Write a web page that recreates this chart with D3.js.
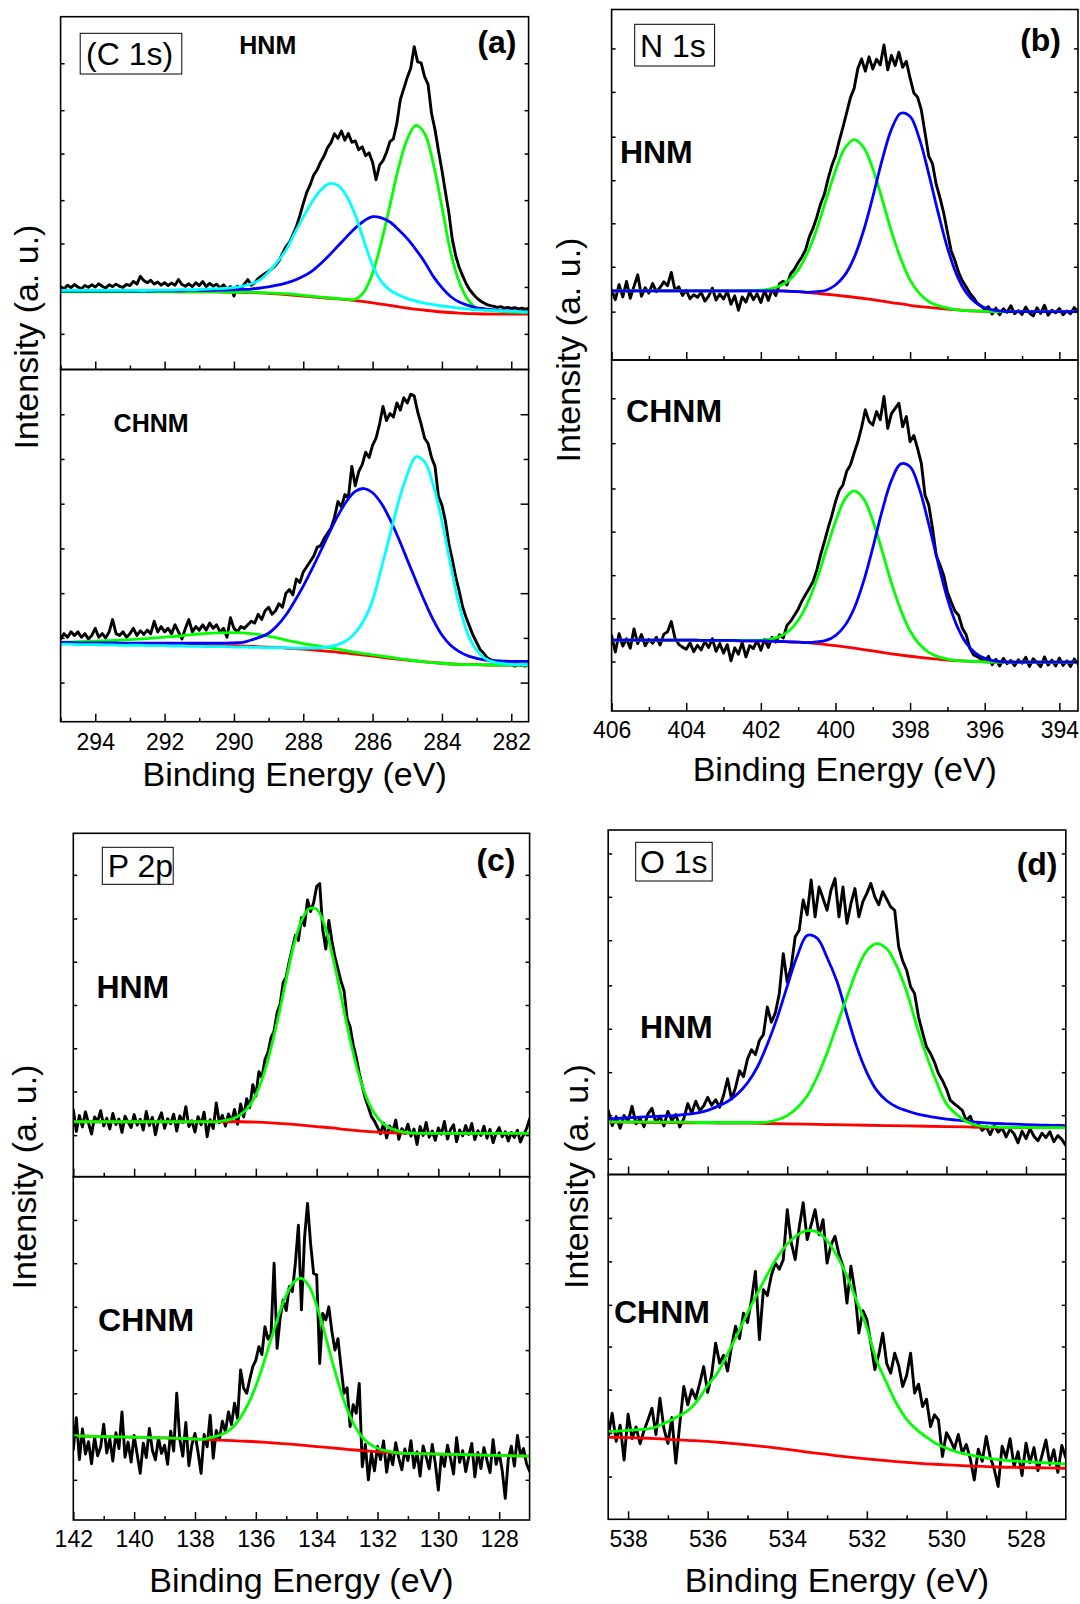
<!DOCTYPE html>
<html><head><meta charset="utf-8">
<script src="https://cdn.jsdelivr.net/npm/d3@7"></script>
<style>body{margin:0;background:#fff}svg{display:block}</style>
</head><body>
<svg id="chart" width="1080" height="1604"></svg>
<script>
// ---------------- DATA ----------------
const rangeC1s = [295, 281.5], rangeN1s = [406, 393.5], rangeP2p = [142, 127], rangeO1s = [538.5, 527];
const stepRaw = 0.1, stepFit = 0.25, stepBg = 0.5;
const majorC1s = [294,292,290,288,286,284,282], minorC1s = [295,293,291,289,287,285,283];
const majorN1s = [406,404,402,400,398,396,394], minorN1s = [405,403,401,399,397,395];
const majorP2p = [142,140,138,136,134,132,130,128], minorP2p = [141,139,137,135,133,131,129];
const majorO1s = [538,536,534,532,530,528], minorO1s = [537,535,533,531,529];

const yTicksC1sHnm = [10.1,23.4,35.7,48.0,61.2,73.5,86.8];
const yTicksC1sChnm = [11.1,23.8,36.5,49.2,61.9,74.6,87.3];
const yTicksN1sHnm = [13.8,26.6,39.0,51.3,63.7,76.5,88.9];
const yTicksN1sChnm = [14.1,26.4,38.7,51.1,63.4,76.3,89.1];
const yTicksP2pHnm = [12.1,24.8,37.4,50.0,62.6,75.2,87.9];
const yTicksP2pChnm = [11.7,24.3,36.9,49.5,62.1,74.8,87.4];
const yTicksO1sHnm = [4.6,17.2,29.7,42.3,54.9,68.0,80.6,93.2];
const yTicksO1sChnm = [12.4,25.0,37.6,50.1,62.2,74.8,87.4];

// C 1s, HNM
const c1sHnmRaw = [23.5,22.8,23.9,23.2,24.1,23.4,22.9,23.8,23.3,24.0,
 23.4,24.3,23.6,23.1,24.0,23.5,24.2,23.6,23.3,24.1,
 23.8,25.0,24.2,26.4,25.2,24.6,25.3,24.2,24.8,23.9,
 24.6,23.8,24.5,23.9,25.5,24.1,23.6,24.3,23.5,24.6,
 23.8,24.9,23.5,24.4,23.6,24.2,23.1,24.0,22.8,23.5,
 20.8,23.6,22.9,24.2,25.5,23.9,24.6,25.8,26.5,27.2,
 27.8,28.6,29.5,30.8,32.9,34.8,36.0,38.2,40.5,43.6,
 47.0,50.2,52.4,55.1,56.6,58.8,60.5,62.9,64.3,66.8,
 65.5,67.6,65.0,66.9,64.4,64.8,62.3,63.1,60.6,61.4,
 58.7,53.8,57.9,59.2,61.5,64.6,65.4,69.8,76.5,79.6,
 82.8,85.4,91.5,87.2,86.9,83.0,80.8,72.6,68.0,62.0,
 56.5,50.3,44.4,36.8,32.2,28.9,26.5,24.3,22.6,21.4,
 20.3,19.5,18.9,18.4,18.1,17.9,17.6,17.8,17.4,17.6,
 17.3,17.5,17.2,17.4,17.1,17.3];
const c1sHnmBg = [22.2,22.2,22.2,22.1,22.1,22.1,22.1,22.0,22.0,22.0,21.9,21.8,21.6,21.2,20.8,20.4,20.0,19.5,18.9,18.2,17.4,16.8,16.3,16.0,15.8,15.7,15.7,15.7];
const c1sHnmGreen = [22.1,22.0,22.0,22.0,22.0,22.0,22.0,22.0,22.0,22.0,22.0,22.0,22.0,22.0,22.0,22.0,22.0,22.0,22.0,
 21.9,21.9,21.9,21.9,21.8,21.7,21.6,21.5,21.3,21.0,20.8,20.5,20.3,20.1,19.9,19.9,22.0,27.3,36.0,46.5,57.2,65.3,69.2,66.9,58.4,46.1,33.3,24.8,19.8,17.4,16.8,16.6,16.4,16.3,16.2,16.2];
const c1sHnmBlue = [22.2,22.2,22.2,22.2,22.2,22.2,22.2,22.2,22.2,22.2,22.2,22.3,22.3,22.3,22.3,22.4,22.4,22.4,22.5,22.5,
 22.6,22.7,22.8,23.1,23.4,23.9,24.5,25.3,26.4,27.9,30.0,32.4,35.0,37.6,40.1,42.1,43.3,43.0,41.8,39.6,37.1,34.0,30.5,26.4,23.2,20.7,19.1,18.2,17.5,17.2,16.9,16.7,16.6,16.5,16.4];
const c1sHnmCyan = [22.4,22.4,22.4,22.4,22.4,22.4,22.4,22.4,22.4,22.4,22.4,22.5,22.5,22.5,22.6,22.6,22.7,22.8,22.9,23.0,
 23.2,23.6,24.3,25.4,27.6,30.5,33.8,38.6,43.2,47.4,50.8,52.7,52.2,49.2,43.8,36.5,29.5,25.0,22.5,21.1,20.1,19.4,18.8,18.4,18.0,17.7,17.4,17.1,16.9,16.8,16.7,16.6,16.5,16.4,16.3];

// C 1s, CHNM
const c1sChnmRaw = [23.5,25,24,25.5,24.5,25.5,24,25,23.5,24.5,
 26.5,24,25,23.8,25.5,29,25,24.5,25.5,24,
 25,26.5,24.5,25.8,24.8,26,25,28.5,25.5,27,
 25.5,26.5,25,27.5,25.5,23.5,26.5,29,25.5,27,
 26,27.5,26,28,26.5,27.5,25.5,26.5,24,29.5,
 26.5,25.5,27,26.5,27.5,28.5,28,30.5,29,31.5,
 32.5,30.5,31.5,33.5,32.5,36.5,37.5,36,40.5,39.5,
 42.5,44,45.5,47,49.5,50,52,53.5,55,58,
 62.5,61,64.5,63.5,72.5,67,71,73,76.5,75,
 78.5,80.5,84.5,89.5,85.5,87.5,86.5,90.5,88.5,92,
 90.5,93,92.5,88,84.5,80.5,79,75,72.5,64,
 61.5,57,50.5,46,41,37,32.5,29.5,27,24.5,
 22.5,20.5,19.5,18.2,17.6,17.3,17,16.5,16.3,17,
 16.2,15.8,16.2,16,15.8,16.1];
const c1sChnmBg = [22.3,22.2,22.2,22.1,22.0,22.0,21.9,21.8,21.7,21.6,21.6,21.4,21.2,20.9,20.6,20.2,19.7,19.2,18.6,18.0,17.5,17.0,16.6,16.3,16.2,16.1,16.1,16.1];
const c1sChnmGreen = [22.5,22.7,22.9,23.1,23.3,23.6,24.0,24.4,24.9,25.2,25.3,25.0,24.3,23.2,22.2,21.4,20.6,19.7,19.0,18.3,17.6,17.0,16.6,16.3,16.2,16.1,16.1,16.1];
const c1sChnmBlue = [22.5,22.5,22.4,22.4,22.4,22.4,22.4,22.3,22.3,22.3,22.3,22.3,22.3,22.3,22.3,22.3,22.3,22.3,22.3,
 22.3,22.4,22.5,23.2,24.0,25.1,27.3,30.3,34.2,38.5,43.3,48.4,53.6,58.5,62.6,65.4,66.2,65.0,62.0,57.5,52.0,46.0,40.0,34.2,28.9,24.6,21.7,19.9,18.7,18.0,17.5,17.3,17.2,17.1,17.1,17.1];
const c1sChnmCyan = [22.0,22.0,21.9,21.9,21.9,21.8,21.8,21.7,21.7,21.7,21.6,21.6,21.6,21.5,21.5,21.4,21.4,21.3,21.3,21.3,
 21.2,21.2,21.1,21.1,21.0,21.0,21.0,20.9,20.9,20.9,21.0,21.3,21.9,23.0,25.2,28.8,34.5,43.5,53.0,62.5,70.2,75.2,73.8,67.2,57.0,44.5,33.0,24.8,20.3,17.9,16.9,16.5,16.3,16.2,16.1];

// N 1s, HNM
const n1sHnmRaw = [20.0,17.2,21.5,18.0,22.4,17.6,21.0,24.3,18.2,20.6,
 19.1,21.8,19.5,20.7,22.3,21.2,25.0,19.8,20.9,18.4,
 19.9,17.5,18.6,17.9,19.3,16.8,18.2,20.5,17.1,18.8,
 17.4,19.6,15.9,18.3,14.2,18.0,16.5,19.4,17.2,18.9,
 16.4,19.8,17.0,20.1,18.4,21.8,22.5,21.4,24.6,25.9,
 27.8,29.4,31.5,35.2,37.6,40.8,44.5,47.2,51.6,55.4,
 58.2,62.5,66.4,70.6,74.8,77.5,83.2,85.9,82.4,86.5,
 83.0,85.8,84.2,89.9,82.8,86.9,84.0,87.8,83.5,85.2,
 80.4,76.2,75.0,71.4,64.8,58.2,56.0,50.1,46.3,42.0,
 36.5,31.2,28.4,25.0,22.6,20.9,19.1,17.8,16.2,15.4,
 14.5,15.2,13.1,14.8,12.9,14.6,13.6,15.5,13.2,14.1,
 13.0,15.1,13.4,12.6,14.9,13.3,15.6,12.8,14.2,13.5,
 14.7,12.9,14.0,13.2,15.0,13.6];
const n1sHnmBg = [19.7,19.7,19.7,19.7,19.7,19.7,19.7,19.7,19.7,19.7,19.5,19.0,18.5,17.9,17.2,16.4,15.6,15.0,14.5,14.1,13.9,13.8,13.8,13.8,13.8,13.8];
const n1sHnmGreen = [19.7,19.7,19.7,19.7,19.7,19.7,19.7,19.7,19.7,19.7,19.7,19.7,19.7,19.7,19.8,19.8,
 19.9,20.3,21.1,22.7,25.7,30.6,37.4,45.8,54.0,60.4,62.9,60.7,54.6,45.9,36.7,28.9,22.8,19.0,16.7,15.5,14.8,14.3,14.1,14.0,13.9,
 13.8,13.8,13.8,13.8,13.8,13.8,13.8,13.8,13.8,13.8];
const n1sHnmBlue = [19.7,19.7,19.7,19.7,19.7,19.7,19.7,19.7,19.7,19.7,19.7,19.7,19.7,19.7,19.7,19.7,19.7,19.7,19.7,19.6,19.5,19.3,
 19.5,19.9,21.4,24.2,29.2,36.8,46.5,57.0,65.8,70.4,69.5,63.1,53.1,42.1,32.0,24.3,19.3,16.4,14.9,14.2,13.9,
 13.8,13.8,13.8,13.8,13.8,13.8,13.8,13.8];

// N 1s, CHNM
const n1sChnmRaw = [21.5,16.8,22.0,18.5,20.6,17.9,23.4,19.2,21.8,18.6,
 20.4,19.3,21.0,18.8,21.9,22.6,25.5,20.7,19.0,18.2,
 17.6,19.4,16.9,18.7,17.4,19.8,18.1,20.6,17.0,19.2,
 16.5,18.9,14.3,18.0,16.2,19.5,15.4,18.6,17.8,20.1,
 17.3,20.4,18.1,21.0,19.6,21.7,20.8,24.4,25.6,27.3,
 29.0,31.3,33.2,35.0,36.9,40.2,44.4,48.1,52.0,55.6,
 59.6,62.8,64.4,68.3,70.1,73.5,76.7,80.8,85.8,82.5,
 81.5,85.3,83.0,89.6,80.5,84.7,86.2,87.7,81.0,83.9,
 76.7,78.5,74.8,70.6,61.5,58.7,52.1,44.4,41.6,38.7,
 33.8,31.1,28.5,27.3,23.6,21.8,17.9,16.0,15.5,14.8,
 14.1,15.6,13.2,14.7,12.8,15.0,13.5,14.4,12.9,14.6,
 13.6,15.3,12.7,14.9,13.8,12.6,15.4,13.1,14.5,12.8,
 15.1,13.0,14.3,12.7,14.8,13.4];
const n1sChnmBg = [20.2,20.2,20.2,20.2,20.2,20.1,20.1,20.0,20.0,19.8,19.6,19.2,18.6,17.9,17.1,16.3,15.6,15.0,14.5,14.2,14.0,13.9,13.9,13.9,13.9,13.9];
const n1sChnmGreen = [20.2,20.2,20.2,20.2,20.2,20.2,20.2,20.2,20.2,20.2,20.1,20.1,20.1,20.1,20.1,20.1,
 20.2,20.5,21.2,22.8,25.8,30.7,37.5,45.8,53.9,60.3,62.7,60.5,54.3,45.6,36.5,28.8,22.8,19.0,16.7,15.5,14.8,14.4,14.2,14.1,14.0,
 13.9,13.9,13.9,13.9,13.9,13.9,13.9,13.9,13.9,13.9];
const n1sChnmBlue = [20.2,20.2,20.2,20.2,20.2,20.2,20.2,20.2,20.2,20.2,20.1,20.1,20.1,20.1,20.0,20.0,20.0,19.9,19.8,19.7,19.6,19.5,
 19.7,20.1,21.5,24.3,29.2,36.8,46.5,57.0,65.7,70.4,69.6,63.2,53.2,42.2,32.0,24.4,19.4,16.5,15.0,14.3,14.0,
 13.9,13.9,13.9,13.9,13.9,13.9,13.9,13.9];

// P 2p, HNM
const p2pHnmRaw = [19.5,13.2,17.8,14.5,18.9,15.6,12.4,17.4,16.1,19.2,
 14.8,17.0,13.9,18.4,15.2,16.8,12.9,17.6,15.9,14.3,
 18.1,15.0,16.7,13.6,19.0,14.9,17.3,12.2,16.4,18.6,
 14.1,16.9,15.4,18.2,13.3,17.7,15.8,20.4,14.6,16.3,
 13.0,17.5,15.1,18.8,11.6,16.6,14.0,21.5,15.7,17.9,
 14.7,18.3,16.0,19.6,15.3,21.2,17.4,22.7,20.1,26.8,
 23.5,30.6,28.9,34.1,36.2,40.5,42.4,47.8,50.3,56.6,
 58.2,62.7,66.5,70.3,68.8,75.4,73.1,80.6,77.2,79.8,
 84.5,85.4,72.0,66.3,74.6,68.7,64.0,60.5,56.9,54.2,
 46.1,43.7,38.5,34.8,30.2,26.4,22.7,20.3,17.5,16.2,
 14.4,12.5,15.6,11.3,14.8,13.2,16.5,10.9,14.0,12.6,
 15.3,11.8,13.9,9.4,14.6,12.0,15.8,11.5,13.3,10.6,
 14.2,12.4,16.1,11.0,13.7,15.1,10.2,13.6,11.9,14.9,
 12.3,15.5,10.8,13.4,12.0,14.7,11.2,13.8,9.9,12.7,
 14.3,11.6,13.1,10.4,12.9,11.4,13.5,10.1,12.2,14.0,
 16.8];
const p2pHnmBg = [16.0,16.0,16.0,16.0,16.0,16.0,16.0,16.0,16.0,16.0,16.0,16.0,15.9,15.7,15.4,15.0,14.6,14.2,13.7,13.3,13.0,12.8,12.7,12.6,12.6,12.6,12.6,12.6,12.6,12.6,12.6];
const p2pHnmFit = [16.0,16.0,16.0,16.0,16.0,16.0,16.0,16.0,16.0,16.0,16.0,16.0,16.0,16.0,16.0,16.0,16.0,16.0,16.0,16.0,
 16.4,16.9,18.1,20.2,23.8,29.5,37.5,47.0,57.5,67.5,74.5,78.0,77.9,73.5,65.2,54.9,44.0,34.2,26.4,20.8,17.2,15.0,13.8,13.2,12.8,
 12.7,12.6,12.6,12.6,12.6,12.6,12.6,12.6,12.6,12.6,12.6,12.6,12.6,12.6,12.6,12.6];

// P 2p, CHNM
const p2pChnmRaw = [20.5,29.8,17.6,26.5,19.2,22.8,16.4,24.1,18.7,21.3,
 27.9,19.5,23.6,17.2,25.4,20.8,31.5,18.3,22.7,16.9,
 24.6,19.1,13.6,22.4,18.2,26.7,20.3,17.5,23.9,19.4,
 21.8,16.2,25.9,20.1,36.9,23.5,18.6,28.4,15.8,22.0,
 25.2,19.8,13.6,24.9,21.3,30.5,18.0,26.1,23.4,28.8,
 25.7,31.5,27.8,34.0,29.6,43.7,38.4,36.9,41.0,44.7,
 46.5,50.5,48.2,56.3,52.7,54.0,74.8,50.0,58.9,64.1,
 61.0,68.0,66.5,74.8,85.9,61.2,82.0,92.2,80.6,71.8,
 71.4,45.6,60.2,58.3,62.1,55.0,49.5,52.8,44.7,36.9,
 38.5,27.2,33.6,31.1,39.8,15.5,22.0,11.7,19.5,14.3,
 21.4,17.6,23.0,13.9,19.8,16.1,22.5,18.0,14.6,20.7,
 17.3,23.1,15.2,19.9,12.8,21.6,18.4,14.9,22.0,16.5,
 8.7,19.1,15.6,21.8,17.9,13.4,24.0,16.8,20.2,14.1,
 18.5,22.3,12.6,19.7,15.0,21.1,17.3,13.8,23.4,16.2,
 19.6,14.4,6.3,17.8,21.5,15.7,24.6,18.9,20.8,16.4,
 14.2];
const p2pChnmBg = [24.5,24.4,24.3,24.2,24.1,24.0,23.9,23.8,23.6,23.4,23.2,23.0,22.8,22.5,22.2,21.8,21.4,21.0,20.6,20.2,19.9,19.6,19.4,19.3,19.2,19.1,19.0,18.9,18.8,18.7,18.6];
const p2pChnmFit = [24.5,24.45,24.4,24.35,24.3,24.25,24.2,24.15,24.1,24.05,24.0,23.95,23.9,23.85,23.8,23.7,23.6,23.5,
 24.0,24.5,25.4,27.1,29.9,33.8,39.0,45.5,52.6,59.6,65.5,69.3,70.4,68.1,62.5,54.9,46.6,38.8,32.3,27.4,24.1,22.1,20.9,20.2,19.8,
 19.5,19.4,19.35,19.3,19.25,19.2,19.15,19.1,19.05,19.0,18.95,18.9,18.85,18.8,18.75,18.7,18.65,18.6];

// O 1s, HNM
const o1sHnmRaw = [18.6,14.2,16.8,13.4,17.1,15.5,19.8,14.7,16.3,13.9,
 17.6,19.2,15.0,16.9,14.1,18.3,15.6,17.4,13.8,16.2,
 20.6,17.8,21.3,18.5,19.9,22.4,20.1,21.7,19.5,23.0,
 27.8,21.9,25.2,30.1,28.4,33.5,36.2,34.8,38.9,40.6,
 48.6,44.2,46.9,52.5,64.1,55.8,60.4,69.0,70.9,79.7,
 75.4,85.5,74.8,83.5,80.1,76.7,82.6,85.9,74.8,83.5,
 72.9,78.6,83.0,74.8,79.2,81.6,84.5,80.6,78.3,82.1,
 79.9,77.7,76.7,66.1,62.0,59.3,54.5,52.5,45.7,41.2,
 37.0,35.1,32.6,29.3,27.3,24.8,21.5,20.5,19.6,18.6,
 15.7,16.9,13.8,14.6,12.8,13.9,11.6,14.2,12.3,13.5,
 10.9,13.1,11.8,9.2,12.6,10.4,13.3,11.1,9.8,12.0,
 10.7,12.4,9.5,11.3,10.2,8.4];
const o1sHnmBg = [15.2,15.2,15.1,15.1,15.0,15.0,14.9,14.9,14.8,14.7,14.6,14.5,14.4,14.3,14.2,14.1,14.0,13.9,13.8,13.7,13.7,13.6,13.6,13.6];
const o1sHnmBlue = [16.2,16.3,16.5,16.6,16.8,16.9,17.0,17.2,17.5,17.9,18.6,19.8,21.2,23.4,26.6,
 31.2,37.8,45.6,54.7,63.4,69.4,68.6,63.0,56.0,46.3,36.9,29.6,24.4,21.4,19.6,18.5,17.6,17.0,16.5,16.1,15.8,15.5,15.2,15.0,
 14.8,14.7,14.6,14.5,14.4,14.3,14.25,14.2];
const o1sHnmGreen = [15.3,15.3,15.3,15.3,15.2,15.2,15.2,15.2,15.2,15.1,15.1,15.1,15.1,15.1,15.1,15.1,15.2,
 15.9,17.1,19.4,22.8,28.3,35.3,43.4,51.5,59.3,65.0,67.0,65.5,60.5,53.1,43.3,34.5,26.9,20.5,17.5,15.4,14.3,13.9,
 13.8,13.7,13.7,13.7,13.6,13.6,13.6,13.6];

// O 1s, CHNM
const o1sChnmRaw = [24.1,30.8,22.6,27.3,17.2,30.5,23.4,26.8,21.9,25.7,
 28.9,32.2,24.6,35.1,26.3,22.0,29.5,16.3,27.8,38.5,
 33.2,37.6,35.0,39.4,44.3,36.8,41.9,51.1,45.3,47.6,
 43.0,50.1,56.0,52.4,59.8,57.1,63.5,71.9,52.1,66.6,
 64.9,70.7,74.3,72.5,75.3,89.8,80.2,75.3,84.6,91.8,
 81.1,85.4,89.8,82.5,86.9,74.3,79.6,82.1,76.8,73.4,
 62.7,73.4,66.1,54.0,60.5,57.9,51.2,43.4,47.8,54.0,
 45.1,42.4,48.2,44.6,38.5,41.7,48.2,36.6,39.2,32.7,
 34.8,26.9,30.3,28.8,18.2,25.1,23.0,20.4,24.6,19.2,
 21.7,17.5,11.4,20.3,16.8,24.0,18.1,14.6,9.5,21.2,
 17.9,23.4,15.3,19.6,12.7,22.1,16.4,20.8,14.1,18.5,
 23.0,15.9,20.2,13.6,21.4,17.8];
const o1sChnmBg = [23.8,23.7,23.5,23.2,22.9,22.6,22.1,21.6,21.0,20.3,19.5,18.8,18.1,17.5,17.0,16.5,16.1,15.8,15.5,15.3,15.1,15.0,14.9,14.8];
const o1sChnmFit = [25.5,25.6,25.8,26.0,26.2,27.0,28.3,29.8,31.5,34.5,38.8,42.5,48.0,53.7,59.8,65.5,71.0,76.0,79.8,82.4,83.7,83.3,80.8,76.4,70.5,63.2,55.6,46.0,39.5,33.5,29.0,26.0,23.8,21.9,20.6,19.6,18.9,18.3,17.8,17.4,17.1,16.9,16.7,16.5,16.4,16.2,16.1];

// ---------------- LAYOUT / STYLE ----------------
const FONT = 'Arial, "Liberation Sans", Helvetica, sans-serif';
const COL = {raw:'#000000', bg:'#ff0000', green:'#00ff00', blue:'#0000ff', cyan:'#00ffff'};
const W = {raw:2.9, fit:2.8};

const panels = [
  { range: rangeC1s, major: majorC1s, minor: minorC1s,
    frame: {x0:60.6, x1:528.6, yTop:16.7, yMid:369.5, yBot:721.7}, labelPad: 12,
    box: {x:80.2, y:33.3, w:101.6, h:40.7, text:'(C 1s)', tx:86, ty:65},
    letter: {text:'(a)', x:516.5, y:53.4, size:32},
    ytitle: {x:38, y:337}, xtitleY: 785.5,
    subs: [
      { yTicks: yTicksC1sHnm, name:{text:'HNM', x:239.3, y:54, size:25},
        series: [[c1sHnmRaw,stepRaw,'raw'],[c1sHnmBg,stepBg,'bg'],[c1sHnmGreen,stepFit,'green'],[c1sHnmBlue,stepFit,'blue'],[c1sHnmCyan,stepFit,'cyan']] },
      { yTicks: yTicksC1sChnm, bigRight: true, name:{text:'CHNM', x:113.6, y:431.7, size:25},
        series: [[c1sChnmRaw,stepRaw,'raw'],[c1sChnmBg,stepBg,'bg'],[c1sChnmGreen,stepBg,'green'],[c1sChnmBlue,stepFit,'blue'],[c1sChnmCyan,stepFit,'cyan']] }
    ]},
  { range: rangeN1s, major: majorN1s, minor: minorN1s,
    frame: {x0:611.6, x1:1078, yTop:9.5, yMid:360, yBot:711}, labelPad: 11,
    box: {x:634.7, y:24.3, w:79.9, h:41.7, text:'N 1s', tx:639.9, ty:56.7},
    letter: {text:'(b)', x:1061, y:50.5, size:32},
    ytitle: {x:579.5, y:350}, xtitleY: 780.5,
    subs: [
      { yTicks: yTicksN1sHnm, name:{text:'HNM', x:619.9, y:163.3, size:32},
        series: [[n1sHnmRaw,stepRaw,'raw'],[n1sHnmBg,stepBg,'bg'],[n1sHnmGreen,stepFit,'green'],[n1sHnmBlue,stepFit,'blue']] },
      { yTicks: yTicksN1sChnm, name:{text:'CHNM', x:626.1, y:421.7, size:32},
        series: [[n1sChnmRaw,stepRaw,'raw'],[n1sChnmBg,stepBg,'bg'],[n1sChnmGreen,stepFit,'green'],[n1sChnmBlue,stepFit,'blue']] }
    ]},
  { range: rangeP2p, major: majorP2p, minor: minorP2p,
    frame: {x0:73.3, x1:529.6, yTop:833.3, yMid:1176.7, yBot:1520}, labelPad: 11,
    box: {x:102.3, y:847.3, w:70.9, h:37, text:'P 2p', tx:107.8, ty:876.5},
    letter: {text:'(c)', x:515.5, y:870.8, size:32},
    ytitle: {x:36, y:1177}, xtitleY: 1592,
    subs: [
      { yTicks: yTicksP2pHnm, name:{text:'HNM', x:96.4, y:998.3, size:32},
        series: [[p2pHnmRaw,stepRaw,'raw'],[p2pHnmBg,stepBg,'bg'],[p2pHnmFit,stepFit,'green']] },
      { yTicks: yTicksP2pChnm, name:{text:'CHNM', x:98.1, y:1330.7, size:32},
        series: [[p2pChnmRaw,stepRaw,'raw'],[p2pChnmBg,stepBg,'bg'],[p2pChnmFit,stepFit,'green']] }
    ]},
  { range: rangeO1s, major: majorO1s, minor: minorO1s,
    frame: {x0:608.2, x1:1065.8, yTop:830, yMid:1174.5, yBot:1519.3}, labelPad: 11.5,
    box: {x:635.7, y:842.3, w:76.5, h:38.7, text:'O 1s', tx:639.9, ty:873.3},
    letter: {text:'(d)', x:1057.5, y:874.8, size:32},
    ytitle: {x:588, y:1176.5}, xtitleY: 1592,
    subs: [
      { yTicks: yTicksO1sHnm, name:{text:'HNM', x:639.9, y:1038.3, size:32},
        series: [[o1sHnmRaw,stepRaw,'raw'],[o1sHnmBg,stepBg,'bg'],[o1sHnmBlue,stepFit,'blue'],[o1sHnmGreen,stepFit,'green']] },
      { yTicks: yTicksO1sChnm, name:{text:'CHNM', x:614, y:1323.3, size:32},
        series: [[o1sChnmRaw,stepRaw,'raw'],[o1sChnmBg,stepBg,'bg'],[o1sChnmFit,stepFit,'green']] }
    ]}
];

// ---------------- DRAW ----------------
const svg = d3.select('#chart');
svg.append('rect').attr('width',1080).attr('height',1604).attr('fill','#fff');
const defs = svg.append('defs');

function styleAxis(g, size) {
  g.select('.domain').remove();
  g.selectAll('.tick line').attr('stroke','#000').attr('stroke-width',1.5);
  g.selectAll('.tick text').attr('fill','#000');
  g.attr('font-family', FONT).attr('font-size', size || 23);
}

panels.forEach((p, pi) => {
  const F = p.frame;
  const x = d3.scaleLinear().domain(p.range).range([F.x0, F.x1]);
  const bounds = [[F.yTop, F.yMid], [F.yMid, F.yBot]];

  p.subs.forEach((s, si) => {
    const [y0, y1] = bounds[si];
    const y = d3.scaleLinear().domain([0, 100]).range([y1, y0]);
    const cid = 'clip' + pi + '_' + si;
    defs.append('clipPath').attr('id', cid).append('rect')
      .attr('x', F.x0).attr('y', y0).attr('width', F.x1 - F.x0).attr('height', y1 - y0);
    const g = svg.append('g').attr('clip-path', 'url(#' + cid + ')');

    s.series.forEach(([vals, step, kind]) => {
      const pts = vals.map((v, i) => [p.range[0] - i * step, v]);
      const curve = kind === 'raw' ? d3.curveLinear : (kind === 'bg' ? d3.curveMonotoneX : d3.curveCatmullRom.alpha(0.5));
      g.append('path').datum(pts)
        .attr('fill', 'none')
        .attr('stroke', COL[kind])
        .attr('stroke-width', kind === 'raw' ? W.raw : W.fit)
        .attr('stroke-linejoin', 'round').attr('stroke-linecap', 'round')
        .attr('d', d3.line().x(d => x(d[0])).y(d => y(d[1])).curve(curve));
    });

    // x axes (inward ticks)
    const axMaj = d3.axisBottom(x).tickValues(p.major).tickSize(-8).tickPadding(p.labelPad).tickFormat(d3.format('d'));
    if (si === 0) axMaj.tickFormat('');
    svg.append('g').attr('transform', `translate(0,${y1})`).call(axMaj).call(g2 => styleAxis(g2));
    svg.append('g').attr('transform', `translate(0,${y1})`)
      .call(d3.axisBottom(x).tickValues(p.minor).tickSize(-4).tickFormat('')).call(g2 => styleAxis(g2));

    // y ticks (no labels)
    svg.append('g').attr('transform', `translate(${F.x0},0)`)
      .call(d3.axisLeft(y).tickValues(s.yTicks).tickSize(-4).tickFormat('')).call(g2 => styleAxis(g2));
    if (s.bigRight) {
      const longT = s.yTicks.filter((d, i) => i % 2 === 0), shortT = s.yTicks.filter((d, i) => i % 2 === 1);
      svg.append('g').attr('transform', `translate(${F.x1},0)`)
        .call(d3.axisRight(y).tickValues(longT).tickSize(-8).tickFormat('')).call(g2 => styleAxis(g2));
      svg.append('g').attr('transform', `translate(${F.x1},0)`)
        .call(d3.axisRight(y).tickValues(shortT).tickSize(-5).tickFormat('')).call(g2 => styleAxis(g2));
    } else {
      svg.append('g').attr('transform', `translate(${F.x1},0)`)
        .call(d3.axisRight(y).tickValues(s.yTicks).tickSize(-4).tickFormat('')).call(g2 => styleAxis(g2));
    }

    // frame
    svg.append('rect').attr('x', F.x0).attr('y', y0).attr('width', F.x1 - F.x0).attr('height', y1 - y0)
      .attr('fill', 'none').attr('stroke', '#000').attr('stroke-width', 1.6);

    // sample label
    svg.append('text').attr('x', s.name.x).attr('y', s.name.y).text(s.name.text)
      .attr('font-family', FONT).attr('font-weight', 'bold').attr('font-size', s.name.size).attr('fill', '#000');
  });

  // element box
  svg.append('rect').attr('x', p.box.x).attr('y', p.box.y).attr('width', p.box.w).attr('height', p.box.h)
    .attr('fill', '#fff').attr('stroke', '#000').attr('stroke-width', 1);
  svg.append('text').attr('x', p.box.tx).attr('y', p.box.ty).text(p.box.text)
    .attr('font-family', FONT).attr('font-size', 32).attr('fill', '#000');

  // panel letter
  svg.append('text').attr('x', p.letter.x).attr('y', p.letter.y).text(p.letter.text)
    .attr('text-anchor', 'end').attr('font-family', FONT).attr('font-weight', 'bold')
    .attr('font-size', p.letter.size).attr('fill', '#000');

  // axis titles
  svg.append('text').attr('x', (F.x0 + F.x1) / 2).attr('y', p.xtitleY).text('Binding Energy (eV)')
    .attr('text-anchor', 'middle').attr('font-family', FONT).attr('font-size', 34).attr('fill', '#000');
  svg.append('text').attr('transform', `translate(${p.ytitle.x},${p.ytitle.y}) rotate(-90)`)
    .text('Intensity (a. u.)').attr('text-anchor', 'middle')
    .attr('font-family', FONT).attr('font-size', 34).attr('fill', '#000');
});
</script>
</body></html>
